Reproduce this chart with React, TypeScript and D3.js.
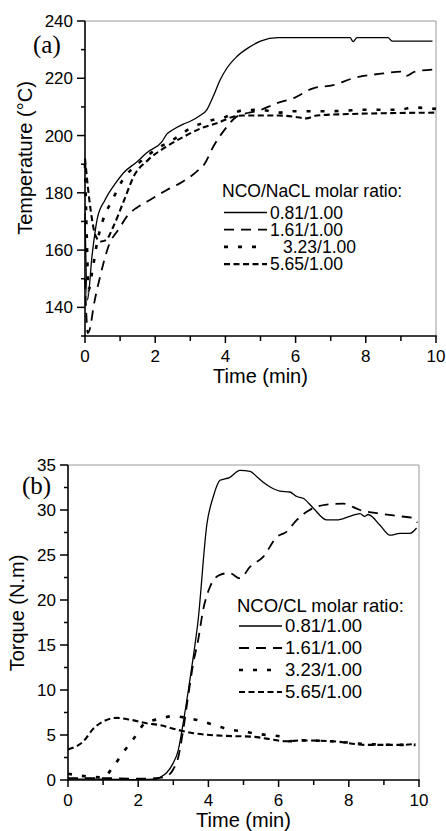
import React from "react";
import * as d3 from "d3";

// ---------- Panel (a): Temperature ----------
const tempTicks = [140, 160, 180, 200, 220, 240];
const timeTicks = [0, 2, 4, 6, 8, 10];

const tA081 = [0, 0.07, 0.2, 0.35, 0.57, 0.85, 1.1, 1.5, 1.76, 2.2, 2.33, 2.5, 2.8, 3.0, 3.28, 3.47, 3.65, 3.85, 4.04, 4.32, 4.7, 5.0, 5.5, 7.55, 7.64, 7.75, 8.63, 8.75, 9.9];
const vA081 = [173, 142.5, 158, 171, 177.5, 183, 187, 191, 194, 198, 200.5, 202, 204, 205, 207, 209, 213.6, 219.4, 223.5, 227.5, 231, 233, 234.2, 234.2, 232.8, 234.2, 234.2, 233, 233];

const tA161 = [0, 0.08, 0.15, 0.24, 0.43, 0.66, 1.0, 1.19, 1.5, 1.85, 2.33, 2.7, 3.18, 3.4, 3.65, 4.04, 4.32, 5.0, 5.46, 5.93, 6.5, 7.07, 7.64, 8.5, 9.0, 9.15, 9.4, 10];
const vA161 = [150, 131, 133, 140, 150.7, 161, 168, 171.7, 175, 177.5, 181, 183.3, 187.4, 190, 196, 203, 206.6, 208.9, 211.3, 213, 216.5, 217.6, 220, 221.7, 222.3, 220.8, 222.3, 223.1];

const tA323 = [0, 0.05, 0.1, 0.2, 0.35, 0.5, 0.8, 1.1, 1.5, 2.0, 2.5, 3.0, 3.5, 4.0, 4.5, 5.0, 5.5, 6.0, 7, 8, 9, 9.3, 10];
const vA323 = [190, 165, 146, 152, 163, 170, 178, 185, 190, 195, 198.5, 202.5, 205, 206.5, 208.8, 209, 208, 208.5, 208.5, 209, 209, 209.8, 209.3];

const tA565 = [0, 0.15, 0.3, 0.45, 0.6, 0.8, 1.1, 1.4, 1.8, 2.3, 2.8, 3.3, 3.8, 4.2, 4.5, 5, 5.5, 6.0, 6.3, 6.6, 7.5, 8.5, 10];
const vA565 = [192, 175, 165, 163, 163.5, 168, 177, 186, 191.5, 196, 199.5, 202.5, 204.5, 206.5, 207, 207, 207, 206.5, 206, 207, 207.5, 207.8, 208];

// ---------- Panel (b): Torque ----------
const torqueTicks = [0, 5, 10, 15, 20, 25, 30, 35];

const tB081 = [0, 1, 2, 2.5, 2.62, 2.81, 3.0, 3.14, 3.28, 3.43, 3.57, 3.7, 3.96, 4.14, 4.33, 4.6, 4.9, 5.19, 5.38, 5.66, 6.04, 6.32, 6.52, 6.7, 6.99, 7.37, 7.66, 8.03, 8.32, 8.45, 8.55, 8.89, 9.17, 9.46, 9.74, 9.93];
const vB081 = [0.1, 0.1, 0.05, 0.1, 0.3, 0.8, 1.9, 3.3, 6.3, 10, 13.7, 17.5, 28.5, 31.5, 33.3, 33.6, 34.4, 34.3, 33.7, 32.8, 32.1, 32.0, 31.5, 31.3, 30.2, 28.9, 28.9, 29.3, 29.6, 29.3, 29.5, 28.3, 27.2, 27.4, 27.4, 28.0];

const tB161 = [0, 1, 2, 2.5, 2.8, 3.0, 3.14, 3.28, 3.43, 3.57, 3.71, 3.85, 4.05, 4.33, 4.6, 4.9, 5.19, 5.56, 5.95, 6.23, 6.52, 6.8, 7.37, 7.84, 8.32, 8.89, 9.46, 9.84, 9.95];
const vB161 = [0.2, 0.2, 0.15, 0.2, 0.4, 1.2, 2.5, 5.5, 9.5, 13, 15.6, 18.9, 21.5, 22.8, 23.0, 22.4, 23.7, 24.8, 27.0, 27.6, 28.9, 29.8, 30.6, 30.7, 30.0, 29.6, 29.3, 29.1, 28.6];

const tB323 = [0, 0.53, 1.0, 1.29, 1.58, 1.91, 2.19, 2.62, 3.0, 3.38, 3.85, 4.24, 4.62, 5.0, 5.28, 5.66, 6.13, 6.3, 6.6, 7.5, 8.5, 9.5, 9.9];
const vB323 = [0.7, 0.4, 0.3, 1.5, 3.1, 4.8, 6.3, 6.8, 7.1, 6.9, 6.5, 6.0, 5.6, 5.4, 5.2, 5.0, 4.8, 4.3, 4.4, 4.3, 4.0, 3.9, 3.9];

const tB565 = [0, 0.44, 0.72, 1.0, 1.39, 1.77, 2.24, 2.62, 3.1, 3.57, 4.05, 4.52, 5.28, 5.66, 6.23, 6.6, 7.55, 8.5, 9.46, 9.9];
const vB565 = [3.4, 4.3, 5.7, 6.5, 6.9, 6.7, 6.3, 6.1, 5.6, 5.2, 5.0, 4.9, 4.8, 4.6, 4.3, 4.4, 4.3, 3.9, 3.9, 4.0];

const ratioLabels = ["0.81/1.00", "1.61/1.00", "3.23/1.00", "5.65/1.00"];

const styles = [
  { dash: "none", width: 1.3 },
  { dash: "10,7", width: 1.8 },
  { dash: "4,10", width: 2.6 },
  { dash: "6,3.5", width: 2.1 },
];

const SANS = "'Liberation Sans', Arial, sans-serif";
const SERIF = "'Liberation Serif', 'Times New Roman', serif";

type PanelProps = {
  left: number; right: number; top: number; bottom: number;
  yDomain: [number, number]; yTicks: number[]; yMinorStep: number;
  series: { t: number[]; v: number[] }[];
  tag: string; tagX: number; tagY: number;
  yLabel: string; yLabelX: number; yLabelY: number;
  xLabelY: number;
  legendTitle: string; legX: number; legY: number; legGap: number; legTitleGap: number;
  legOffsets: number[]; legSampleLens: number[]; legFont: number;
};

function Panel(p: PanelProps) {
  const x = d3.scaleLinear().domain([0, 10]).range([p.left, p.right]);
  const y = d3.scaleLinear().domain(p.yDomain).range([p.bottom, p.top]);
  const line = d3.line<[number, number]>().x(d => x(d[0])).y(d => y(d[1])).curve(d3.curveMonotoneX);
  const xMinor = d3.range(1, 10, 2);
  const yMinor = d3.range(p.yDomain[0], p.yDomain[1] + 0.001, p.yMinorStep).filter(v => !p.yTicks.includes(v));
  return (
    <g>
      <line x1={p.left} x2={p.right} y1={p.top} y2={p.top} stroke="#9a9a9a" strokeWidth={1} />
      <line x1={p.right} x2={p.right} y1={p.top} y2={p.bottom} stroke="#9a9a9a" strokeWidth={1} />
      {p.series.map((s, i) => (
        <path key={i} d={line(s.t.map((t, j) => [t, s.v[j]] as [number, number])) || ""}
          fill="none" stroke="#000" strokeWidth={styles[i].width}
          strokeDasharray={styles[i].dash === "none" ? undefined : styles[i].dash} />
      ))}
      <line x1={p.left} x2={p.left} y1={p.top} y2={p.bottom + 0.8} stroke="#000" strokeWidth={1.6} />
      <line x1={p.left - 0.8} x2={p.right + 0.8} y1={p.bottom} y2={p.bottom} stroke="#000" strokeWidth={1.6} />
      {timeTicks.map(t => (
        <g key={"xt" + t}>
          <line x1={x(t)} x2={x(t)} y1={p.bottom} y2={p.bottom + 7} stroke="#000" strokeWidth={1.5} />
          <text x={x(t)} y={p.bottom + 26} textAnchor="middle" fontFamily={SANS} fontSize={17}>{t}</text>
        </g>
      ))}
      {xMinor.map(t => (
        <line key={"xm" + t} x1={x(t)} x2={x(t)} y1={p.bottom} y2={p.bottom + 5} stroke="#000" strokeWidth={1.5} />
      ))}
      {p.yTicks.map(v => (
        <g key={"yt" + v}>
          <line x1={p.left - 8} x2={p.left} y1={y(v)} y2={y(v)} stroke="#000" strokeWidth={1.5} />
          <text x={p.left - 12} y={y(v) + 6} textAnchor="end" fontFamily={SANS} fontSize={17}>{v}</text>
        </g>
      ))}
      {yMinor.map(v => (
        <line key={"ym" + v} x1={p.left - 4} x2={p.left} y1={y(v)} y2={y(v)} stroke="#000" strokeWidth={1.5} />
      ))}
      <text x={(p.left + p.right) / 2} y={p.xLabelY} textAnchor="middle" fontFamily={SANS} fontSize={20}>Time (min)</text>
      <text transform={`translate(${p.yLabelX},${p.yLabelY}) rotate(-90)`} textAnchor="middle" fontFamily={SANS} fontSize={20}>{p.yLabel}</text>
      <text x={p.tagX} y={p.tagY} fontFamily={SERIF} fontSize={25}>{p.tag}</text>
      <text x={p.legX} y={p.legY} fontFamily={SANS} fontSize={p.legFont}>{p.legendTitle}</text>
      {ratioLabels.map((lab, i) => {
        const cy = p.legY + p.legTitleGap + i * p.legGap - 6;
        return (
          <g key={lab}>
            <line x1={p.legX + 2} x2={p.legX + 2 + p.legSampleLens[i]} y1={cy} y2={cy} stroke="#000"
              strokeWidth={styles[i].width} strokeDasharray={styles[i].dash === "none" ? undefined : styles[i].dash} />
            <text x={p.legX + 48 + p.legOffsets[i]} y={cy + 6.3} fontFamily={SANS} fontSize={p.legFont}>{lab}</text>
          </g>
        );
      })}
    </g>
  );
}

export default function App() {
  return (
    <svg width={446} height={831} style={{ position: "absolute", left: 0, top: 0, background: "#fff" }}>
      <rect width={446} height={831} fill="#fff" />
      <Panel
        left={85} right={436} top={21} bottom={336}
        yDomain={[130, 240]} yTicks={tempTicks} yMinorStep={10}
        series={[{ t: tA081, v: vA081 }, { t: tA161, v: vA161 }, { t: tA323, v: vA323 }, { t: tA565, v: vA565 }]}
        tag="(a)" tagX={33} tagY={53}
        yLabel="Temperature (°C)" yLabelX={32} yLabelY={158}
        xLabelY={383}
        legendTitle="NCO/NaCL molar ratio:" legX={222} legY={196.5} legGap={17.2} legTitleGap={22}
        legOffsets={[0, 0, 13, 0]} legSampleLens={[43, 43, 33, 43]} legFont={17.5}
      />
      <Panel
        left={68} right={419} top={465} bottom={780}
        yDomain={[0, 35]} yTicks={torqueTicks} yMinorStep={2.5}
        series={[{ t: tB081, v: vB081 }, { t: tB161, v: vB161 }, { t: tB323, v: vB323 }, { t: tB565, v: vB565 }]}
        tag="(b)" tagX={22} tagY={494}
        yLabel="Torque (N.m)" yLabelX={24} yLabelY={613}
        xLabelY={827}
        legendTitle="NCO/CL molar ratio:" legX={237} legY={611.5} legGap={22} legTitleGap={20.5}
        legOffsets={[0, 0, 0, 0]} legSampleLens={[43, 43, 33, 43]} legFont={18.5}
      />
    </svg>
  );
}
